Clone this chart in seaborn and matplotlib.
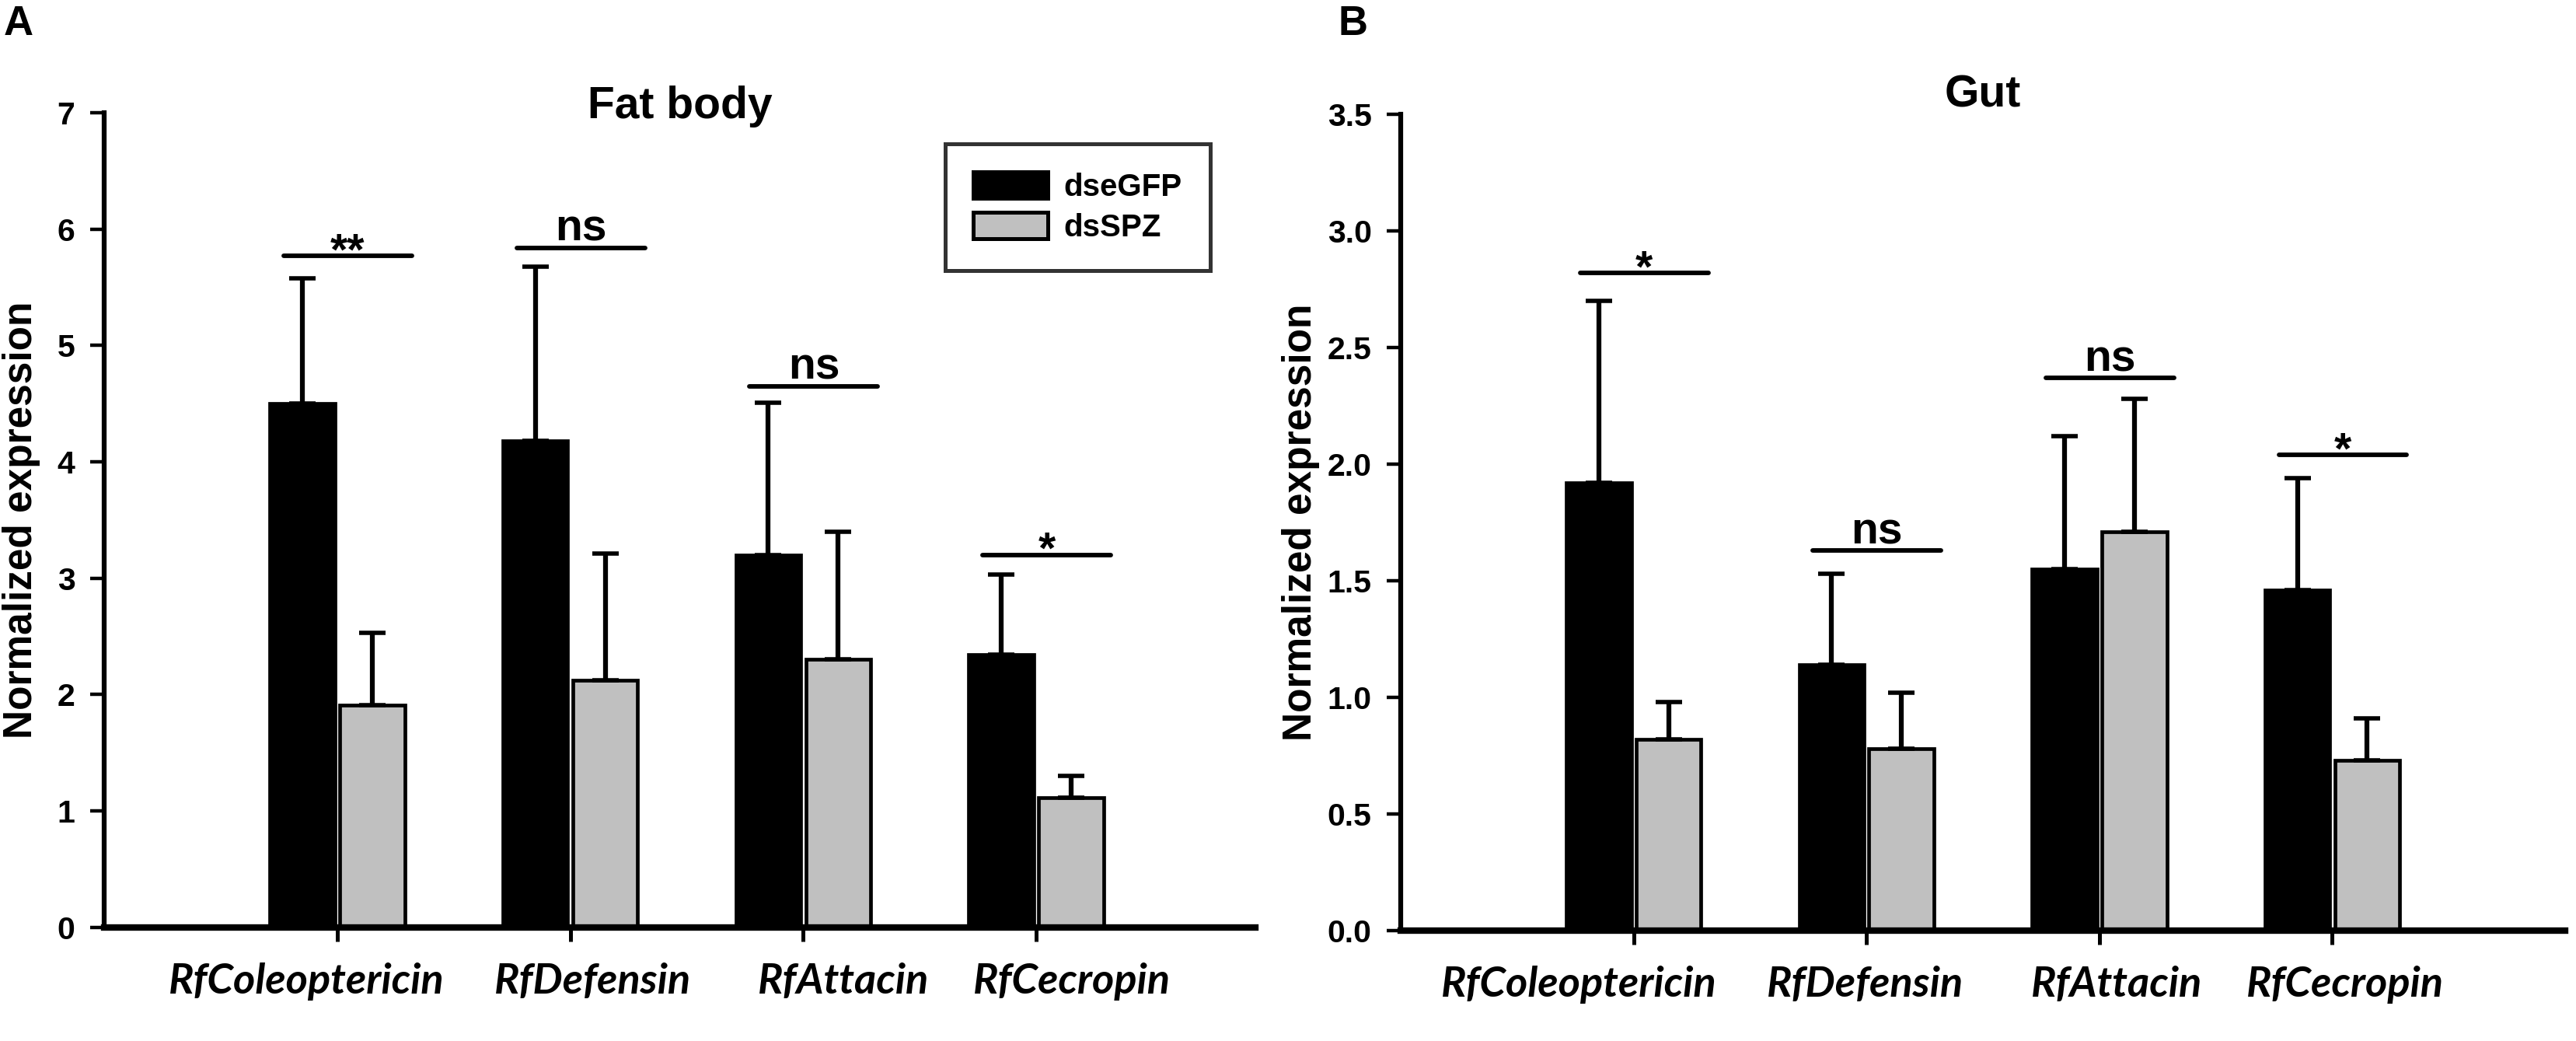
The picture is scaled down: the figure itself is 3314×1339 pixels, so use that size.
import numpy as np
import pandas as pd
import matplotlib
matplotlib.use("Agg")
import matplotlib.pyplot as plt
import matplotlib.patches as mpatches
import matplotlib.transforms as mtransforms
import seaborn as sns

# --- datos (media y desviacion hacia arriba) ---
genes = ["RfColeoptericin", "RfDefensin", "RfAttacin", "RfCecropin"]
groups = ["dseGFP", "dsSPZ"]
colors = ["black", "#c0c0c0"]

fat_gfp = [4.50, 4.18, 3.20, 2.34]
fat_gfp_sd = [1.08, 1.50, 1.31, 0.69]
fat_spz = [1.91, 2.12, 2.30, 1.11]
fat_spz_sd = [0.62, 1.09, 1.10, 0.19]
fat_sig = ["**", "ns", "ns", "*"]
fat_sig_y = [5.77, 5.84, 4.65, 3.20]

gut_gfp = [1.92, 1.14, 1.55, 1.46]
gut_gfp_sd = [0.78, 0.39, 0.57, 0.48]
gut_spz = [0.82, 0.78, 1.71, 0.73]
gut_spz_sd = [0.16, 0.24, 0.57, 0.18]
gut_sig = ["*", "ns", "ns", "*"]
gut_sig_y = [2.82, 1.63, 2.37, 2.04]

sns.set_style("ticks", {"axes.edgecolor": "black", "xtick.color": "black",
                        "ytick.color": "black", "text.color": "black",
                        "axes.labelcolor": "black"})
plt.rcParams["font.family"] = ["Liberation Sans", "DejaVu Sans"]
plt.rcParams["font.weight"] = "bold"

fig = plt.figure(figsize=(33.14, 13.39), dpi=100)
ax_a = fig.add_axes([0.04043, 0.1094, 0.4469, 0.7823])
ax_b = fig.add_axes([0.5438, 0.1060, 0.4520, 0.7842])


def draw_panel(ax, gfp, gfp_sd, spz, spz_sd, sig, sig_y, ymax, ystep, fmt,
               xmax, shifts, title, title_y, label_x):
    df = pd.DataFrame({
        "gene": genes * 2,
        "group": [groups[0]] * len(genes) + [groups[1]] * len(genes),
        "value": gfp + spz,
    })
    sns.barplot(data=df, x="gene", y="value", hue="group", order=genes,
                hue_order=groups, palette=colors, width=0.6, gap=0.07,
                edgecolor="black", linewidth=3.4, errorbar=None,
                legend=False, ax=ax)

    # barras de error solo hacia arriba
    for cont, sd in zip(ax.containers, [gfp_sd, spz_sd]):
        xs = [b.get_x() + b.get_width() / 2 for b in cont]
        ys = [b.get_height() for b in cont]
        ax.errorbar(xs, ys, yerr=[np.zeros(len(sd)), sd], fmt="none",
                    ecolor="black", elinewidth=4.5, capsize=12, capthick=4,
                    zorder=3)

    # lineas de significancia
    for i, (lab, y) in enumerate(zip(sig, sig_y)):
        ax.plot([i - 0.23, i + 0.32], [y, y], color="black", lw=4.2,
                solid_capstyle="round", zorder=3)
        off = 6.5 if lab == "ns" else -8
        ax.annotate(lab, (i + 0.045, y), xytext=(0, off),
                    textcoords="offset points", ha="center", va="baseline",
                    fontsize=41, fontweight="bold")

    ax.set_xlim(-1, xmax)
    ax.set_ylim(0, ymax)
    ticks = np.arange(0, ymax + 1e-9, ystep)
    ax.set_yticks(ticks)
    ax.set_yticklabels([fmt.format(t) for t in ticks])
    ax.set_xlabel("")
    # la etiqueta rotada se ancla por su lado derecho (parte baja del texto)
    ax.set_ylabel("Normalized expression", fontsize=37, fontweight="bold")
    ax.yaxis.set_label_coords(label_x, 0.5)

    for s in ["top", "right"]:
        ax.spines[s].set_visible(False)
    ax.spines["left"].set_linewidth(4.5)
    ax.spines["bottom"].set_linewidth(6)

    ax.tick_params(axis="y", direction="out", length=13, width=3.2, pad=14,
                   labelsize=29.5)
    ax.tick_params(axis="x", direction="out", length=12.6, width=3.6, pad=20,
                   labelsize=39)
    for lab, dx in zip(ax.get_xticklabels(), shifts):
        lab.set_fontfamily("Lato")
        lab.set_fontstyle("italic")
        lab.set_fontweight("bold")
        lab.set_transform(lab.get_transform() +
                          mtransforms.ScaledTranslation(dx / 100, 0,
                                                        fig.dpi_scale_trans))

    ax.text(0.5, title_y, title, transform=ax.transAxes, ha="center",
            va="baseline", fontsize=41, fontweight="bold")


draw_panel(ax_a, fat_gfp, fat_gfp_sd, fat_spz, fat_spz_sd, fat_sig, fat_sig_y,
           7, 1, "{:.0f}", 3.94, [-40, 29, 52, 46], "Fat body", 0.9933,
           -0.0554)
draw_panel(ax_b, gut_gfp, gut_gfp_sd, gut_spz, gut_spz_sd, gut_sig, gut_sig_y,
           3.5, 0.5, "{:.1f}", 4.0, [-71, -2, 22, 16], "Gut", 1.0095,
           -0.0694)

handles = [mpatches.Patch(facecolor=c, edgecolor="black", linewidth=3.6,
                          joinstyle="round") for c in colors]
leg = ax_a.legend(handles, groups, loc="upper right",
                  bbox_to_anchor=(1557 / 3314, 1 - 185 / 1339),
                  bbox_transform=fig.transFigure, borderaxespad=0,
                  prop={"weight": "bold", "size": 29}, handlelength=2.4,
                  handleheight=0.9, handletextpad=0.5, labelspacing=0.33,
                  borderpad=0.9, fancybox=False, frameon=True)
leg.get_frame().set_linewidth(3.6)
leg.get_frame().set_edgecolor("black")

fig.text(5 / 3314, 1 - 45 / 1339, "A", fontsize=38, fontweight="bold",
         va="baseline")
fig.text(1721 / 3314, 1 - 45 / 1339, "B", fontsize=38, fontweight="bold",
         va="baseline")

fig.savefig("out.png", dpi=100)
